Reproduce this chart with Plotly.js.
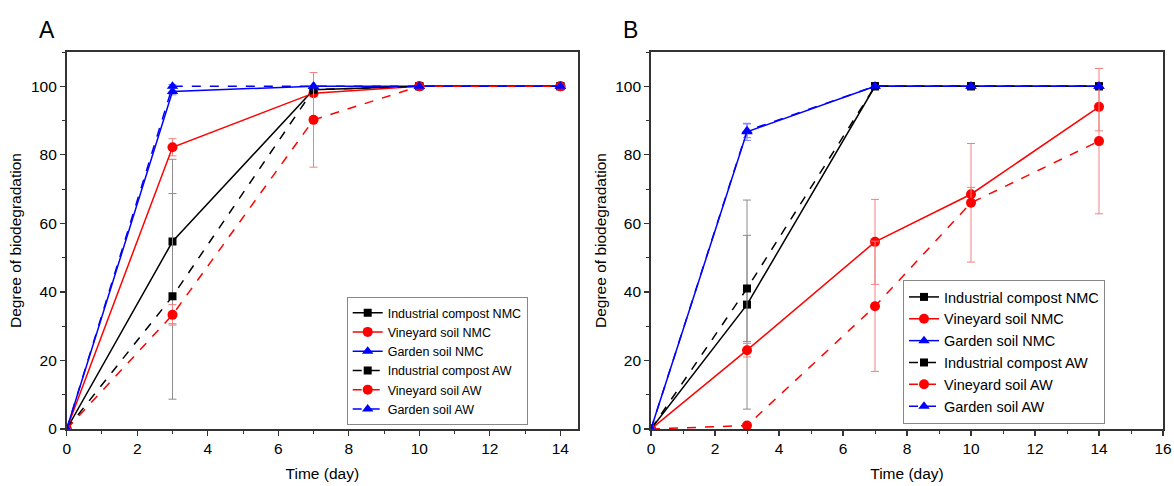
<!DOCTYPE html>
<html>
<head>
<meta charset="utf-8">
<script src="https://cdn.plot.ly/plotly-3.0.1.min.js"></script>
<style>html,body{margin:0;padding:0;background:#fff;}#chart{width:1174px;height:486px;}</style>
</head>
<body>
<div id="chart"></div>
<script>
// ---- data ----
const days = [0, 3, 7, 10, 14];
const seriesNames = ["Industrial compost NMC", "Vineyard soil NMC", "Garden soil NMC",
                     "Industrial compost AW", "Vineyard soil AW", "Garden soil AW"];

// Panel A
const icNMC_A = [0, 54.7, 99, 100, 100];
const icNMC_A_err = [0, 24, 0, 0, 0];
const vsNMC_A = [0, 82.2, 98, 100, 100];
const vsNMC_A_err = [0, 2.5, 1, 0, 0];
const gsNMC_A = [0, 98.5, 100, 100, 100];
const gsNMC_A_err = [0, 1, 0, 0, 0];
const icAW_A = [0, 38.7, 99, 100, 100];
const icAW_A_err = [0, 30, 0, 0, 0];
const vsAW_A = [0, 33.3, 90.2, 100, 100];
const vsAW_A_err = [0, 3, 13.8, 0, 0];
const gsAW_A = [0, 100, 100, 100, 100];
const gsAW_A_err = [0, 0.5, 0, 0, 0];

// Panel B
const icNMC_B = [0, 36.3, 100, 100, 100];
const icNMC_B_err = [0, 30.5, 0, 0, 0];
const vsNMC_B = [0, 23, 54.6, 68.5, 94];
const vsNMC_B_err = [0, 2, 12.4, 2, 7];
const gsNMC_B = [0, 86.7, 100, 100, 100];
const gsNMC_B_err = [0, 2.5, 0, 0, 0];
const icAW_B = [0, 41, 100, 100, 100];
const icAW_B_err = [0, 15.5, 0, 0, 0];
const vsAW_B = [0, 1, 35.8, 66, 84];
const vsAW_B_err = [0, 0.5, 19, 17.3, 21.2];
const gsAW_B = [0, 87, 100, 100, 100];
const gsAW_B_err = [0, 2, 0, 0, 0];

// ---- styles ----
const styles = [
  {color: "#000000", err: "#8c8c8c", symbol: "square", size: 8, dash: "solid"},
  {color: "#ff0000", err: "#f08080", symbol: "circle", size: 10, dash: "solid"},
  {color: "#0000ff", err: "#8080ff", symbol: "triangle-up", size: 10, dash: "solid"},
  {color: "#000000", err: "#8c8c8c", symbol: "square", size: 8, dash: "dash"},
  {color: "#ff0000", err: "#f08080", symbol: "circle", size: 10, dash: "dash"},
  {color: "#0000ff", err: "#8080ff", symbol: "triangle-up", size: 10, dash: "dash"}
];

function mk(i, ys, errs, xa, ya, leg) {
  const s = styles[i];
  return {
    x: days, y: ys, type: "scatter", mode: "lines+markers",
    name: seriesNames[i], xaxis: xa, yaxis: ya, legend: leg,
    line: {color: s.color, width: 1.5, dash: s.dash},
    marker: {color: s.color, symbol: s.symbol, size: s.size},
    error_y: {type: "data", array: errs, visible: true, color: s.err, thickness: 1, width: 4}
  };
}

const dataA = [[icNMC_A, icNMC_A_err], [vsNMC_A, vsNMC_A_err], [gsNMC_A, gsNMC_A_err],
               [icAW_A, icAW_A_err], [vsAW_A, vsAW_A_err], [gsAW_A, gsAW_A_err]];
const dataB = [[icNMC_B, icNMC_B_err], [vsNMC_B, vsNMC_B_err], [gsNMC_B, gsNMC_B_err],
               [icAW_B, icAW_B_err], [vsAW_B, vsAW_B_err], [gsAW_B, gsAW_B_err]];

const traces = [];
dataA.forEach((d, i) => traces.push(mk(i, d[0], d[1], "x", "y", "legend")));
dataB.forEach((d, i) => traces.push(mk(i, d[0], d[1], "x2", "y2", "legend2")));

const font = {family: "Arial, 'Liberation Sans', sans-serif", color: "#000"};
const axisCommon = {
  showgrid: false, zeroline: false, showline: true, mirror: true,
  linecolor: "#333", linewidth: 1.8,
  ticks: "outside", ticklen: 5, tickwidth: 1.3, tickcolor: "#333",
  tickfont: {size: 15.5, family: font.family, color: "#000"},
  minor: {ticks: "outside", ticklen: 3, tickwidth: 1, tickcolor: "#333"}
};
const yDomain = [57/486, 434/486];
const titleFont = {size: 15.5, family: font.family, color: "#000"};

const layout = {
  width: 1174, height: 486,
  margin: {l: 0, r: 0, t: 0, b: 0},
  paper_bgcolor: "#ffffff", plot_bgcolor: "#ffffff",
  font: font,
  showlegend: true,
  xaxis: Object.assign({}, axisCommon, {
    domain: [66.7/1174, 578/1174], range: [0, 14.5], dtick: 2, tick0: 0,
    minor: Object.assign({}, axisCommon.minor, {dtick: 1}),
    title: {text: "Time (day)", font: titleFont, standoff: 12},
    anchor: "y", automargin: false
  }),
  yaxis: Object.assign({}, axisCommon, {
    domain: yDomain, range: [0, 110], dtick: 20, tick0: 0,
    minor: Object.assign({}, axisCommon.minor, {dtick: 10}),
    title: {text: "Degree of biodegradation", font: titleFont, standoff: 5},
    anchor: "x", automargin: false
  }),
  xaxis2: Object.assign({}, axisCommon, {
    domain: [651/1174, 1163/1174], range: [0, 16], dtick: 2, tick0: 0,
    minor: Object.assign({}, axisCommon.minor, {dtick: 1}),
    title: {text: "Time (day)", font: titleFont, standoff: 12},
    anchor: "y2", automargin: false
  }),
  yaxis2: Object.assign({}, axisCommon, {
    domain: yDomain, range: [0, 110], dtick: 20, tick0: 0,
    minor: Object.assign({}, axisCommon.minor, {dtick: 10}),
    title: {text: "Degree of biodegradation", font: titleFont, standoff: 5},
    anchor: "x2", automargin: false
  }),
  legend: {
    x: 346.7/1174, y: (486-425)/486, xanchor: "left", yanchor: "bottom",
    bgcolor: "#ffffff", bordercolor: "#888", borderwidth: 1,
    font: {size: 12.5, family: font.family, color: "#000"},
    tracegroupgap: 0, itemwidth: 30
  },
  legend2: {
    x: 903/1174, y: (486-424)/486, xanchor: "left", yanchor: "bottom",
    bgcolor: "#ffffff", bordercolor: "#888", borderwidth: 1,
    font: {size: 14.5, family: font.family, color: "#000"},
    tracegroupgap: 0, itemwidth: 30
  },
  annotations: [
    {text: "A", x: 37/1174, y: (486-30)/486, xref: "paper", yref: "paper", showarrow: false,
     xanchor: "left", yanchor: "middle", font: {size: 23, family: font.family, color: "#000"}},
    {text: "B", x: 621/1174, y: (486-30)/486, xref: "paper", yref: "paper", showarrow: false,
     xanchor: "left", yanchor: "middle", font: {size: 23, family: font.family, color: "#000"}}
  ]
};

Plotly.newPlot("chart", traces, layout, {displayModeBar: false, staticPlot: true});
</script>
</body>
</html>
